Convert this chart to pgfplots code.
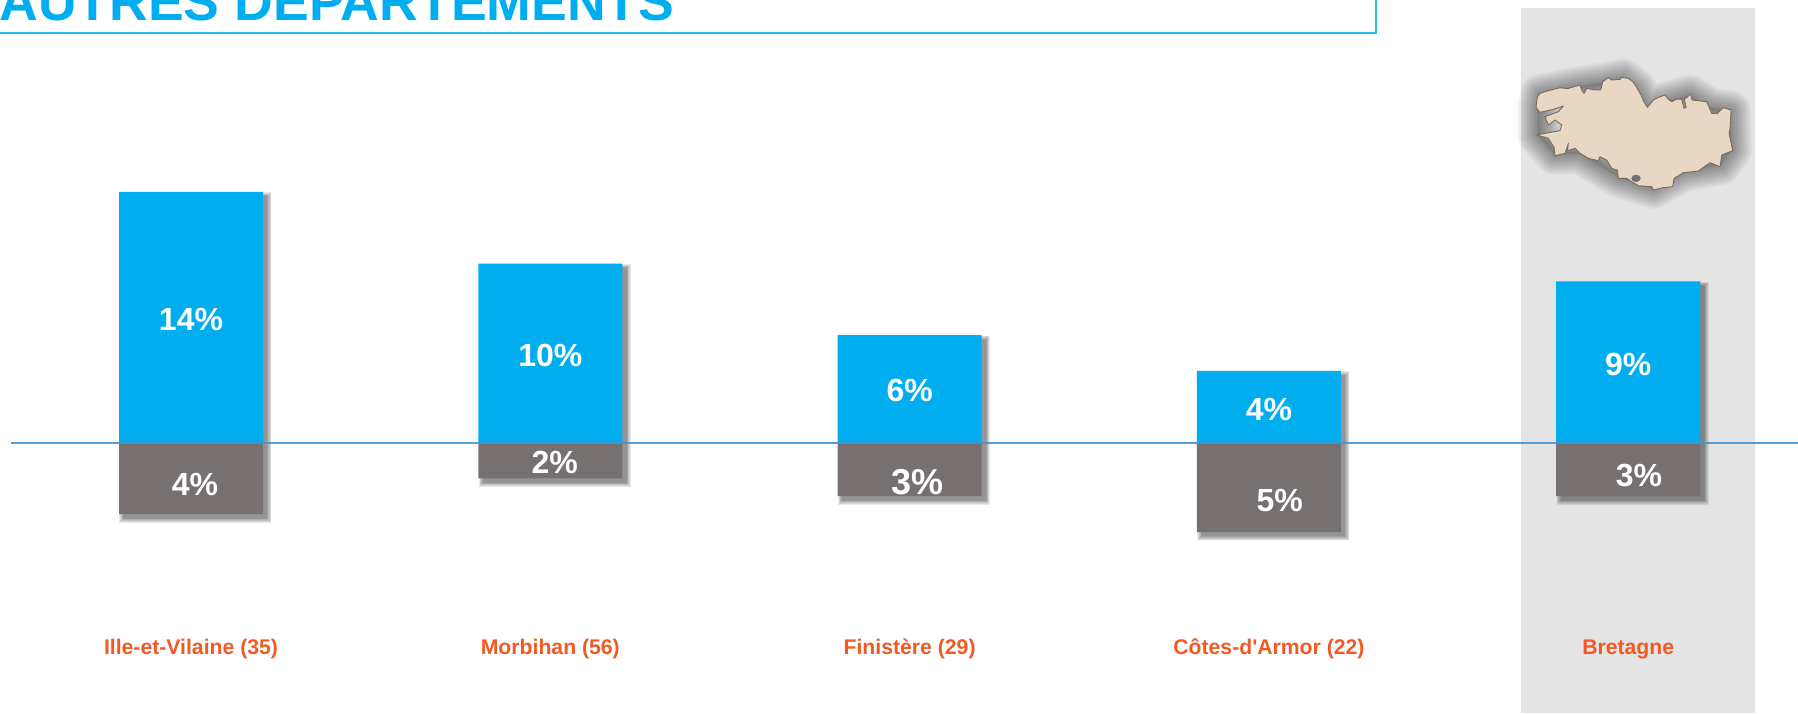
\documentclass[border=0pt]{standalone}
\usepackage{fontspec}
\setmainfont{Liberation Sans}[Ligatures=TeXOff]
\usepackage{pgfplots}
\pgfplotsset{compat=1.18}
\definecolor{cblue}{HTML}{00AEEF}
\definecolor{cgrey}{HTML}{767170}
\definecolor{corange}{HTML}{F15A22}
\definecolor{cpanel}{HTML}{E4E4E4}
\definecolor{cline}{HTML}{3F97D3}
\definecolor{cmap}{HTML}{E8D7C3}
\definecolor{cmapl}{HTML}{7A6A5C}
\def\bretagne{(168,322) (172,290) (180,280) (205,272) (240,263) (262,266) (300,255) (305,270) (312,280) (320,265) (345,270) (362,270) (368,245) (385,233) (395,240) (420,238) (425,232) (445,235) (458,245) (470,262) (483,285) (490,302) (502,322) (520,300) (535,292) (555,285) (565,298) (575,305) (590,297) (605,298) (612,325) (618,322) (613,298) (632,282) (636,300) (680,305) (695,340) (712,340) (730,323) (753,330) (750,385) (747,400) (758,452) (725,465) (720,500) (690,488) (655,513) (610,518) (582,535) (578,560) (548,563) (520,570) (515,560) (475,557) (455,545) (440,535) (415,535) (412,510) (395,505) (380,480) (360,470) (355,482) (325,475) (300,460) (285,445) (262,452) (265,430) (255,460) (225,467) (222,442) (205,415) (170,405) (205,398) (240,392) (245,375) (225,360) (205,375) (195,350) (235,335) (250,318) (220,328) (180,337)}
\def\mapshadow{(172,320) (180,282) (300,258) (368,248) (430,236) (468,265) (502,318) (630,285) (690,322) (752,332) (755,450) (722,495) (610,516) (520,566) (415,532) (300,462) (225,464) (172,405)}
% one layer of a soft bar shadow: x, top, bottom, spread
\newcommand\shl[4]{\fill[black,opacity=.085] ([xshift={-36pt+2.2pt-#4},yshift={-2.2pt+#4}]axis cs:#1,#2) rectangle ([xshift={36pt+2.2pt+#4},yshift={-2.2pt-#4}]axis cs:#1,#3);}
\newcommand\shadowcol[3]{\shl{#1}{#2}{#3}{2pt}\shl{#1}{#2}{#3}{1.6pt}\shl{#1}{#2}{#3}{1.2pt}\shl{#1}{#2}{#3}{0.8pt}\shl{#1}{#2}{#3}{0.4pt}\shl{#1}{#2}{#3}{0pt}}
\begin{document}
\begin{tikzpicture}
\path[use as bounding box,clip] (0,0) rectangle (899pt,356.5pt);
\begin{scope}[x=0.5pt,y=-0.5pt,shift={(0pt,356.5pt)}]
  \fill[cpanel] (1521,8) rectangle (1755,713);
  \draw[cblue!85,line width=1.1pt] (-2,33) -- (1376,33) -- (1376,-2);
  \node[anchor=base west,inner sep=0pt,text=cblue,font=\fontsize{26.8pt}{30pt}\selectfont\bfseries] at (-1,21) {AUTRES DEPARTEMENTS};
\end{scope}
\begin{scope}[x=0.1667pt,y=-0.1667pt,shift={(740pt,356.5pt)}]
  \fill[black,opacity=.10] plot coordinates {\mapshadow} -- cycle;
  \foreach \w in {20,18,16,14,12,10,8,6,4,2}{
    \draw[black,opacity=.045,line width=\w pt,line join=round] plot coordinates {\mapshadow} -- cycle;
  }
  \draw[cmapl,fill=cmap,line width=.45pt,line join=round] plot coordinates {\bretagne} -- cycle;
  \fill[cgrey] (468,535) ellipse (14 and 11);
\end{scope}
\begin{axis}[
  scale only axis, width=899pt, height=356.5pt,
  xmin=-0.5316, xmax=4.4725, ymin=-15.11, ymax=24.72,
  axis line style={draw=none}, major tick length=0pt,
  ytick=\empty, xtick={0,1,2,3,4},
  xticklabels={Ille-et-Vilaine (35),Morbihan (56),Finistère (29),Côtes-d'Armor (22),Bretagne},
  xticklabel style={anchor=center,yshift=32pt,text=corange,font=\fontsize{10.6pt}{12pt}\selectfont\bfseries},
  clip=false,
]
\shadowcol{0}{14}{-4}
\shadowcol{1}{10}{-2}
\shadowcol{2}{6}{-3}
\shadowcol{3}{4}{-5}
\shadowcol{4}{9}{-3}
\addplot[ybar,bar width=72pt,bar shift=0pt,fill=cblue,draw=none] coordinates {(0,14) (1,10) (2,6) (3,4) (4,9)};
\addplot[ybar,bar width=72pt,bar shift=0pt,fill=cgrey,draw=none] coordinates {(0,-4) (1,-2) (2,-3) (3,-5) (4,-3)};
\addplot[cline,line width=1pt,opacity=.9] coordinates {(-0.501,0) (4.4725,0)};
\addplot[only marks,mark=none,point meta=explicit symbolic,nodes near coords,
  nodes near coords style={anchor=center,inner sep=0pt,yshift=-0.5pt,text=white,font=\fontsize{16pt}{18pt}\selectfont\bfseries}]
  coordinates {(0,6.91)[14\%] (1,4.93)[10\%] (2,2.94)[6\%] (3,1.92)[4\%] (4,4.41)[9\%]
  (0.011,-2.31)[4\%] (1.012,-1.03)[2\%] (3.03,-3.21)[5\%] (4.03,-1.80)[3\%]};
\addplot[only marks,mark=none,point meta=explicit symbolic,nodes near coords,
  nodes near coords style={anchor=center,inner sep=0pt,yshift=-0.5pt,text=white,font=\fontsize{18pt}{20pt}\selectfont\bfseries}]
  coordinates {(2.022,-2.18)[3\%]};
\end{axis}
\end{tikzpicture}
\end{document}
